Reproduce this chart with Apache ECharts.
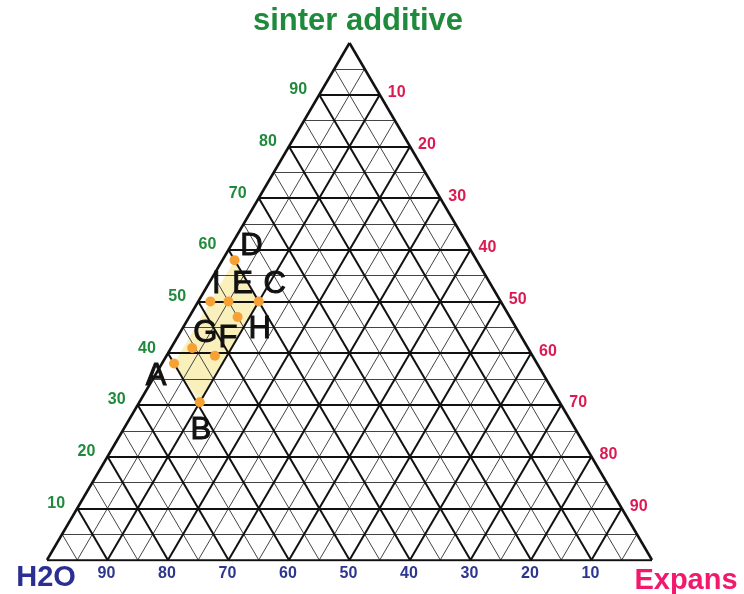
<!DOCTYPE html>
<html>
<head>
<meta charset="utf-8">
<script src="https://cdn.jsdelivr.net/npm/echarts@6/dist/echarts.min.js"></script>
<style>
  html, body { margin: 0; padding: 0; background: #ffffff; }
  #chart { width: 744px; height: 594px; }
</style>
</head>
<body>
<div id="chart"></div>
<script>
// Ternary composition diagram (percent): sinter additive at the apex,
// H2O at the bottom-left corner, Expans at the bottom-right corner.
const pointNames    = ['A', 'B', 'C', 'D', 'E', 'F', 'G', 'H', 'I'];
const sinterValues  = [38, 30.5, 50, 58, 50, 39.5, 41, 47, 50];
const expansValues  = [2, 10, 10, 2, 5, 8, 3.5, 8, 2];
const h2oValues     = [60, 59.5, 40, 40, 45, 52.5, 55.5, 45, 48];

// Corners of the shaded working region
const regionCorners = ['A', 'D', 'C', 'B'];

// Grid levels and tick labels
const majorTicks = [10, 20, 30, 40, 50, 60, 70, 80, 90];
const minorTicks = [5, 15, 25, 35, 45, 55, 65, 75, 85, 95];
const sinterTickLabels = ['10', '20', '30', '40', '50', '60', '70', '80', '90'];
const expansTickLabels = ['10', '20', '30', '40', '50', '60', '70', '80', '90'];
const h2oTickLabels    = ['10', '20', '30', '40', '50', '60', '70', '80', '90'];

// Label placement (pixels, relative to each point)
const letterOffsets = {
  A: [-18, 13], B: [1, 28], C: [16, -17], D: [17, -14], E: [14, -17],
  F: [13, -17], G: [13, -15], H: [22, 12], I: [6, -17]
};

// Ternary (sinter, expans, h2o) -> plane (x along the base, y = height)
function toXY(s, e, w) {
  const t = s + e + w;
  const S = 100 * s / t, E = 100 * e / t;
  return [E + S / 2, S];
}

function seg(a, b) { return { coords: [a, b] }; }

function gridLines(levels) {
  const out = [];
  levels.forEach(k => {
    // constant sinter
    out.push(seg(toXY(k, 0, 100 - k), toXY(k, 100 - k, 0)));
    // constant expans
    out.push(seg(toXY(0, k, 100 - k), toXY(100 - k, k, 0)));
    // constant H2O
    out.push(seg(toXY(0, 100 - k, k), toXY(100 - k, 0, k)));
  });
  return out;
}

const outline = [
  seg(toXY(0, 0, 100), toXY(0, 100, 0)),
  seg(toXY(0, 100, 0), toXY(100, 0, 0)),
  seg(toXY(100, 0, 0), toXY(0, 0, 100))
];

const pointData = pointNames.map((n, i) => ({
  name: n,
  value: toXY(sinterValues[i], expansValues[i], h2oValues[i]),
  label: { offset: letterOffsets[n] }
}));

function tickSeries(labels, posFn, dx, dy, color) {
  return {
    type: 'custom',
    coordinateSystem: 'cartesian2d',
    silent: true,
    z: 5,
    data: majorTicks.map(v => posFn(v)),
    renderItem: (params, api) => {
      const p = api.coord([api.value(0), api.value(1)]);
      return {
        type: 'text',
        x: p[0] + dx,
        y: p[1] + dy,
        style: {
          text: labels[params.dataIndex],
          fill: color,
          font: 'bold 16px "Liberation Sans", Arial, sans-serif',
          align: 'center',
          verticalAlign: 'middle'
        }
      };
    }
  };
}

const chart = echarts.init(document.getElementById('chart'));

chart.setOption({
  animation: false,
  backgroundColor: '#ffffff',
  grid: { left: 47, right: 92, top: 43, bottom: 34 },
  xAxis: { type: 'value', min: 0, max: 100, show: false },
  yAxis: { type: 'value', min: 0, max: 100, show: false },
  graphic: [
    {
      type: 'text', x: 358, y: 21,
      style: {
        text: 'sinter additive', fill: '#1f8a3c',
        font: 'bold 31px "Liberation Sans", Arial, sans-serif',
        align: 'center', verticalAlign: 'middle'
      }
    },
    {
      type: 'text', x: 46, y: 578,
      style: {
        text: 'H2O', fill: '#2b2f94',
        font: 'bold 29px "Liberation Sans", Arial, sans-serif',
        align: 'center', verticalAlign: 'middle'
      }
    },
    {
      type: 'text', x: 686, y: 581,
      style: {
        text: 'Expans', fill: '#f2186c',
        font: 'bold 29px "Liberation Sans", Arial, sans-serif',
        align: 'center', verticalAlign: 'middle'
      }
    }
  ],
  series: [
    {
      // shaded working region
      type: 'custom',
      coordinateSystem: 'cartesian2d',
      silent: true,
      z: 1,
      data: [0],
      renderItem: (params, api) => {
        const pts = regionCorners.map(n => {
          const i = pointNames.indexOf(n);
          return api.coord(toXY(sinterValues[i], expansValues[i], h2oValues[i]));
        });
        return {
          type: 'polygon',
          shape: { points: pts },
          style: { fill: '#f9f0bc', stroke: 'none' }
        };
      }
    },
    {
      type: 'lines',
      coordinateSystem: 'cartesian2d',
      silent: true,
      z: 2,
      lineStyle: { color: '#444444', width: 1, opacity: 1 },
      data: gridLines(minorTicks)
    },
    {
      type: 'lines',
      coordinateSystem: 'cartesian2d',
      silent: true,
      z: 3,
      lineStyle: { color: '#111111', width: 2, opacity: 1 },
      data: gridLines(majorTicks)
    },
    {
      type: 'lines',
      coordinateSystem: 'cartesian2d',
      silent: true,
      z: 3,
      lineStyle: { color: '#111111', width: 2.5, opacity: 1 },
      data: outline
    },
    {
      type: 'scatter',
      z: 4,
      symbol: 'circle',
      symbolSize: 10,
      itemStyle: { color: '#f7a134', opacity: 1 },
      label: {
        show: true,
        position: 'inside',
        formatter: '{b}',
        color: '#111111',
        fontSize: 31,
        fontFamily: '"Liberation Sans", Arial, sans-serif',
        fontWeight: 'normal',
        textBorderColor: '#111111',
        textBorderWidth: 1
      },
      data: pointData
    },
    tickSeries(sinterTickLabels, v => toXY(v, 0, 100 - v), -21, -5, '#1f8a3c'),
    tickSeries(expansTickLabels, v => toXY(100 - v, v, 0), 17, -2, '#dc1a52'),
    tickSeries(h2oTickLabels, v => toXY(0, 100 - v, v), -1, 14, '#2c3590')
  ]
});
</script>
</body>
</html>
